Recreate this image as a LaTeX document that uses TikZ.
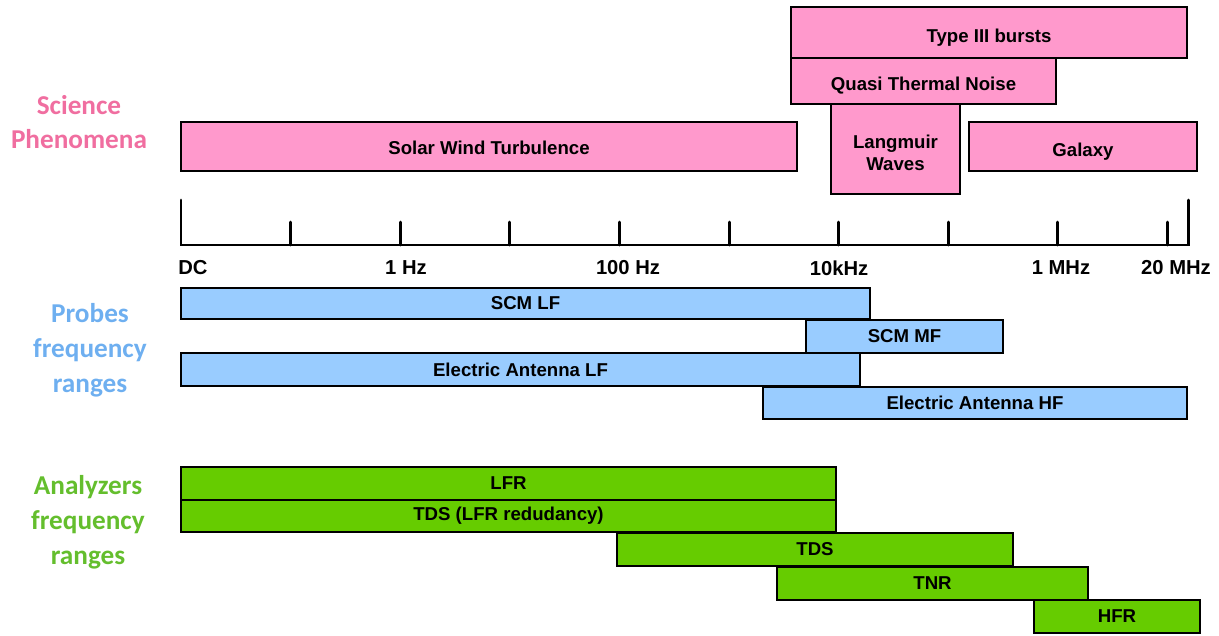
\documentclass[tikz,border=0pt]{standalone}
\usepackage{fontspec}
\setmainfont{Liberation Sans}
\newfontfamily\titlefont{Carlito}
\definecolor{phenpink}{RGB}{255,153,204}
\definecolor{probeblue}{RGB}{153,204,255}
\definecolor{anagreen}{RGB}{102,204,0}
\definecolor{phentext}{RGB}{240,110,160}
\definecolor{probetext}{RGB}{110,175,240}
\definecolor{anatext}{RGB}{100,190,45}

\begin{document}
\begin{tikzpicture}[x=0.02cm, y=-0.02cm,
    band/.style={draw=black, line width=1pt},
    bandtext/.style={font=\bfseries\fontsize{10.6}{12.5}\selectfont, align=center, inner sep=0pt},
    ticktext/.style={font=\bfseries\fontsize{11.5}{13}\selectfont},
    grouptext/.style={font=\titlefont\bfseries\fontsize{15.5}{19.8}\selectfont, align=center}]
    \useasboundingbox (0,0) rectangle (1219,635);

    % science phenomena (last field: text drop in px)
    \foreach \n/\xa/\ya/\xb/\yb/\t/\dy in {solar/181/122/797/171/Solar Wind Turbulence/1,
        typeiii/791/7/1187/58/Type III bursts/5,
        qtn/791/58/1056/104/Quasi Thermal Noise/5,
        langmuir/831/104/960/194/{Langmuir\\Waves}/4,
        galaxy/969/122/1197/171/Galaxy/5}
    {
        \draw[band, fill=phenpink] (\xa,\ya) rectangle (\xb,\yb);
        \node[bandtext] (\n) at ({(\xa+\xb)/2},{(\ya+\yb)/2+\dy}) {\t};
    }

    % frequency axis
    \def \step {109.6}
    \draw[line width=1.7pt, line cap=round] (181,200) -- (181,245) -- (1188,245) -- (1188,200);
    \foreach \k in {1,...,9}
    {
        \draw[line width=1.7pt, line cap=round] ({181+\step*\k},245) -- ++(0,-23);
    }
    \foreach \n/\x/\t in {dc/193/DC, hz/406/1 Hz, hzc/628/100 Hz, khz/839/10kHz, mhz/1061/1 MHz, mhzt/1176/20 MHz}
    {
        \node[ticktext] (\n) at (\x,268) {\t};
    }

    % probes
    \foreach \n/\xa/\ya/\xb/\yb/\t in {scmlf/181/288/870/319/SCM LF,
        scmmf/806/320/1003/353/SCM MF,
        ealf/181/353/860/386/Electric Antenna LF,
        eahf/763/387/1187/419/Electric Antenna HF}
    {
        \draw[band, fill=probeblue] (\xa,\ya) rectangle (\xb,\yb) node[midway, bandtext] (\n) {\t};
    }

    % analyzers
    \foreach \n/\xa/\ya/\xb/\yb/\t in {lfr/181/467/836/500/LFR,
        tdslfr/181/500/836/532/TDS (LFR redudancy),
        tds/617/533/1013/566/TDS,
        tnr/777/567/1088/600/TNR,
        hfr/1034/600/1200/633/HFR}
    {
        \draw[band, fill=anagreen] (\xa,\ya) rectangle (\xb,\yb) node[midway, bandtext] (\n) {\t};
    }

    % group titles
    \node[grouptext, text=phentext] (science) at (79,122) {Science\\Phenomena};
    \node[grouptext, text=probetext] (probes) at (90,350) {Probes\\frequency\\ranges};
    \node[grouptext, text=anatext] (analyzers) at (88,522) {Analyzers\\frequency\\ranges};
\end{tikzpicture}
\end{document}
